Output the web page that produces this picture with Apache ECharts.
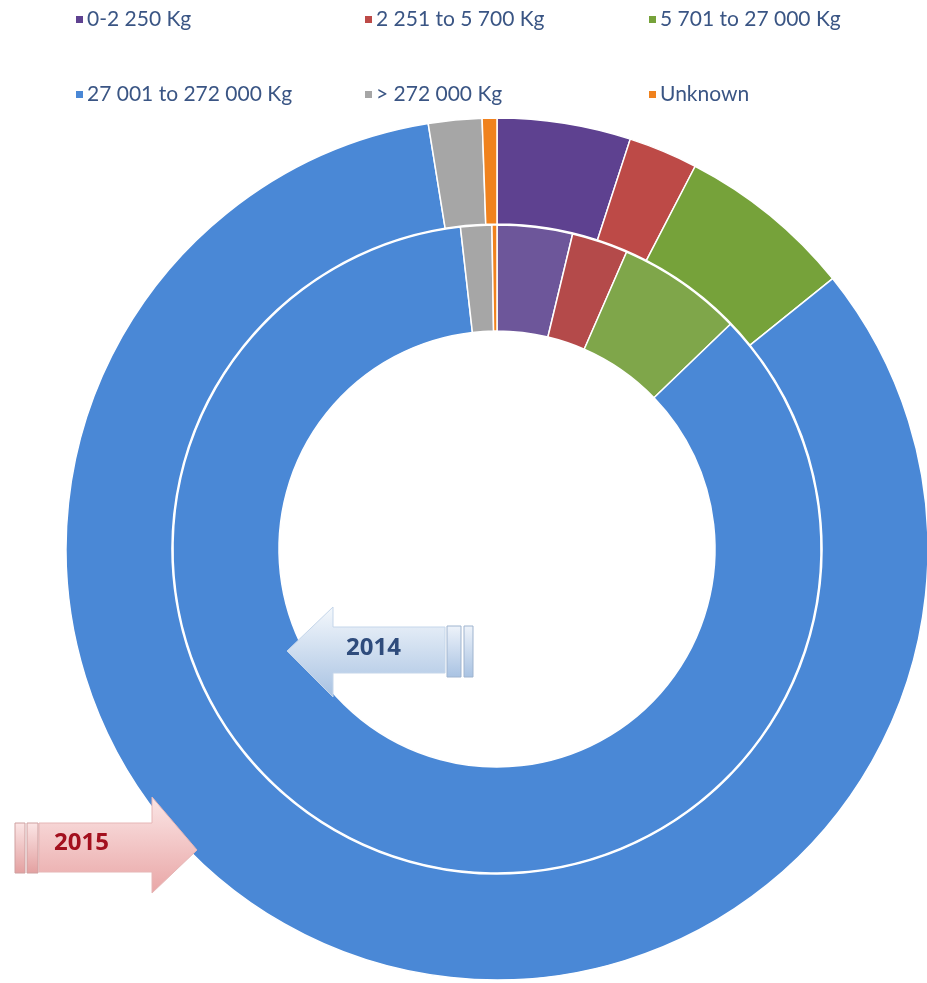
<!DOCTYPE html>
<html>
<head>
<meta charset="utf-8">
<script src="https://cdn.jsdelivr.net/npm/echarts@6/dist/echarts.min.js"></script>
<style>
  html, body { margin: 0; padding: 0; background: #fff; }
  #main { width: 927px; height: 983px; }
</style>
</head>
<body>
<div id="main"></div>
<script>
// weight classes, shares in percent
const categories = ['0-2 250 Kg', '2 251 to 5 700 Kg', '5 701 to 27 000 Kg', '27 001 to 272 000 Kg', '> 272 000 Kg', 'Unknown'];
const values2015 = [5.0, 2.6, 6.6, 83.2, 2.0, 0.55];
const values2014 = [3.75, 2.8, 6.25, 85.4, 1.55, 0.25];
const colors2015 = ['#5E4190', '#BD4A47', '#76A23A', '#4A88D6', '#A6A6A6', '#F0821E'];
const colors2014 = ['#6D569A', '#B44A4A', '#7FA64A', '#4A88D6', '#A6A6A6', '#F0821E'];
// legend layout: 3 columns x 2 rows
const legendLeft = [69, 358, 642];
const legendTop = [4, 79];

const chart = echarts.init(document.getElementById('main'));

const legends = categories.map(function (name, i) {
  return {
    data: [name],
    left: legendLeft[i % 3],
    top: legendTop[Math.floor(i / 3)],
    icon: 'rect',
    itemWidth: 9,
    itemHeight: 9,
    itemGap: 0,
    selectedMode: false,
    textStyle: {
      fontFamily: 'Lato',
      fontSize: 21,
      color: '#3A5584',
      padding: [0, 0, 0, -2]
    }
  };
});

function ring(values, cols, radius, name) {
  return {
    name: name,
    type: 'pie',
    center: [497, 549],
    radius: radius,
    startAngle: 90,
    clockwise: true,
    silent: true,
    label: { show: false },
    labelLine: { show: false },
    itemStyle: { borderColor: '#fff', borderWidth: 1.5 },
    data: categories.map(function (c, i) {
      return { name: c, value: values[i], itemStyle: { color: cols[i] } };
    })
  };
}

// arrow shapes with their year labels
function arrowFill(c1, c2) {
  return new echarts.graphic.LinearGradient(0, 0, 0, 1, [
    { offset: 0, color: c1 },
    { offset: 1, color: c2 }
  ]);
}

const graphics = [
  // 2014 arrow, pointing left
  {
    type: 'polygon',
    shape: { points: [[287, 651], [333, 607], [333, 627], [445, 627], [445, 673], [333, 673], [333, 697]] },
    style: { fill: arrowFill('#F4F8FC', '#A8C2E2'), stroke: '#C5D6EA', lineWidth: 1 },
    z: 10
  },
  { type: 'rect', shape: { x: 447, y: 626, width: 14, height: 51 }, style: { fill: arrowFill('#EEF3FA', '#A8C2E2'), stroke: '#9FB4CF', lineWidth: 1 }, z: 10 },
  { type: 'rect', shape: { x: 464, y: 626, width: 9, height: 51 }, style: { fill: arrowFill('#EEF3FA', '#A8C2E2'), stroke: '#9FB4CF', lineWidth: 1 }, z: 10 },
  {
    type: 'text', left: 346, top: 636, z: 11,
    style: { text: '2014', fontFamily: 'Open Sans', fontWeight: 'bold', fontSize: 24, fill: '#2F4C7C' }
  },
  // 2015 arrow, pointing right
  {
    type: 'polygon',
    shape: { points: [[39, 823], [152, 823], [152, 797], [197, 850], [152, 893], [152, 872], [39, 872]] },
    style: { fill: arrowFill('#FBE6E6', '#E9A6A6'), stroke: '#E6B6B6', lineWidth: 1 },
    z: 10
  },
  { type: 'rect', shape: { x: 15, y: 823, width: 10, height: 50 }, style: { fill: arrowFill('#FBE6E6', '#E3A0A0'), stroke: '#CFA0A0', lineWidth: 1 }, z: 10 },
  { type: 'rect', shape: { x: 27, y: 823, width: 11, height: 50 }, style: { fill: arrowFill('#FBE6E6', '#E3A0A0'), stroke: '#CFA0A0', lineWidth: 1 }, z: 10 },
  {
    type: 'text', left: 54, top: 831, z: 11,
    style: { text: '2015', fontFamily: 'Open Sans', fontWeight: 'bold', fontSize: 24, fill: '#A3101E' }
  }
];

const option = {
  backgroundColor: '#fff',
  animation: false,
  legend: legends,
  series: [
    ring(values2015, colors2015, [325, 431], '2015'),
    ring(values2014, colors2014, [218, 324], '2014')
  ],
  graphic: graphics
};

chart.setOption(option);
</script>
</body>
</html>
